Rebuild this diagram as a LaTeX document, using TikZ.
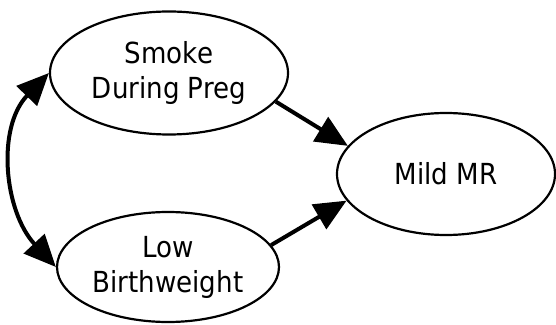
\documentclass[tikz,border=0pt]{standalone}
\usepackage{fontspec}
\setmainfont{DejaVu Sans}[FakeStretch=0.9]
\usetikzlibrary{shapes,arrows.meta,positioning}

\begin{document}
\begin{tikzpicture}[
        x=1pt,y=1pt,
        >={Triangle[length=32pt,width=28pt]},
        var/.style={draw,ellipse,line width=2.2pt,inner sep=0pt,align=center,font=\fontsize{29}{35}\selectfont},
        arrow/.style={->,line width=4pt}
    ]
        \useasboundingbox (0,0) rectangle (556,324);

        % Smoking
        \node[var,minimum width=238,minimum height=123] (smoke) at (169,251) {Smoke\\During Preg};

        % Birthweight
        \node[var,minimum width=222,minimum height=110] (low) at (168,57) {Low\\Birthweight};

        % Outcome
        \node[var,minimum width=218,minimum height=122] (mild) at (446,150) {Mild MR};

        % Arrows
        \draw[arrow] (smoke.-15) -- (mild.164);
        \draw[arrow] (low.12) -- (mild.195);
        \draw[arrow,<->] (smoke.west) to[out=226,in=133] (low.west);
    \end{tikzpicture}
\end{document}
